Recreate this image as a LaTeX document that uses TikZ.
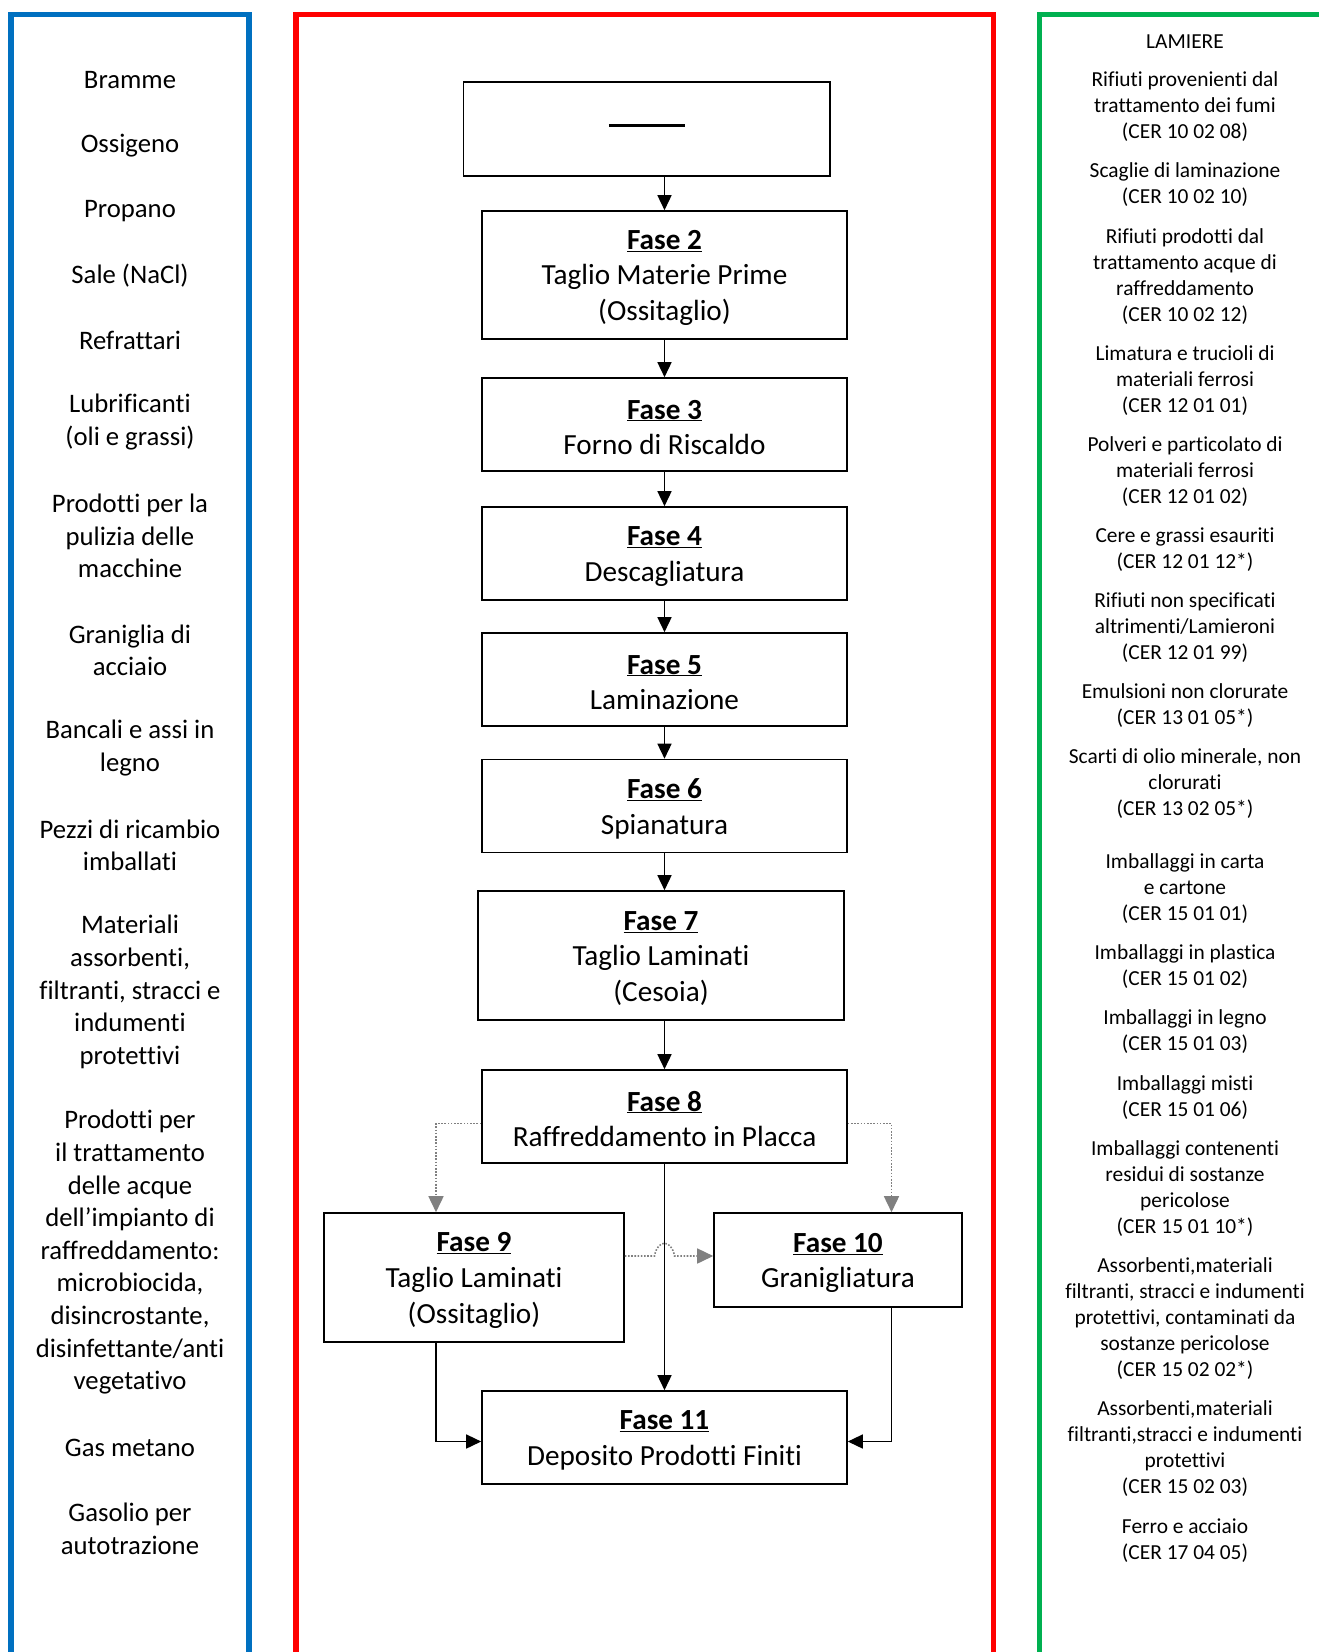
\documentclass[tikz,border=0pt]{standalone}
\usepackage{fontspec}
\setmainfont{Carlito}[Ligatures=NoCommon]
\usetikzlibrary{arrows.meta,calc}

\definecolor{frameblue}{HTML}{0070C0}
\definecolor{framered}{HTML}{FF0000}
\definecolor{framegreen}{HTML}{00B050}
\definecolor{dotgray}{HTML}{808080}

\newcommand{\fasetitle}[1]{\rule{0pt}{25pt}\textbf{\underline{Fase #1}}}

\tikzset{
  fase/.style={draw, line width=1.6pt, minimum width=365pt, minimum height=93pt, inner sep=0pt, align=center, font=\fontsize{29.2}{35.8}\selectfont},
  arr/.style={line width=1.5pt, -{Triangle[length=15pt,width=14pt]}},
  dotarr/.style={dotgray, line width=1.6pt, dash pattern=on 1.6pt off 1.6pt, -{Triangle[length=16pt,width=15pt]}},
  intxt/.style={align=center, inner sep=0pt, font=\fontsize{26.7}{32.58}\selectfont},
  outtxt/.style={align=center, inner sep=0pt, font=\fontsize{21.4}{26}\selectfont},
  frame/.style={line width=5.5pt}
}

\begin{document}
\begin{tikzpicture}[x=1pt, y=-1pt]
\useasboundingbox (0,0) rectangle (1319,1652);

% colonne
\draw[frame, frameblue] (11,1652) -- (11,14.5) -- (249,14.5) -- (249,1652);
\draw[frame, framered] (296,1652) -- (296,14.5) -- (993.7,14.5) -- (993.7,1652);
\draw[frame, framegreen] (1039.5,1652) -- (1039.5,14.5) -- (1319,14.5);

% ingressi
\foreach \k/\s/\txt in {1/0/Bramme, 2/2/Ossigeno, 3/4/Propano, 4/6/Sale (NaCl), 5/8/Refrattari,
    6/10.5/{Lubrificanti\\(oli e grassi)},
    7/14/{Prodotti per la\\pulizia delle\\macchine},
    8/17.5/{Graniglia di\\acciaio},
    9/20.5/{Bancali e assi in\\legno},
    10/23.5/{Pezzi di ricambio\\imballati},
    11/28/{Materiali\\assorbenti,\\filtranti, stracci e\\indumenti\\protettivi},
    12/36/{Prodotti per\\il trattamento\\delle acque\\dell’impianto di\\raffreddamento:\\microbiocida,\\disincrostante,\\disinfettante/anti\\vegetativo},
    13/42/Gas metano,
    14/44.5/{Gasolio per\\autotrazione}}
  \node[intxt] (in\k) at (130,{80.5+32.55*\s}) {\txt};

% uscite
\foreach \k/\y/\txt in {0/40/LAMIERE,
    1/104.9/{Rifiuti provenienti dal\\trattamento dei fumi\\(CER 10 02 08)},
    2/182.9/{Scaglie di laminazione\\(CER 10 02 10)},
    3/274.5/{Rifiuti prodotti dal\\trattamento acque di\\raffreddamento\\(CER 10 02 12)},
    4/378.9/{Limatura e trucioli di\\materiali ferrosi\\(CER 12 01 01)},
    5/470/{Polveri e particolato di\\materiali ferrosi\\(CER 12 01 02)},
    6/548/{Cere e grassi esauriti\\(CER 12 01 12*)},
    7/626/{Rifiuti non specificati\\altrimenti/Lamieroni\\(CER 12 01 99)},
    8/704/{Emulsioni non clorurate\\(CER 13 01 05*)},
    9/782/{Scarti di olio minerale, non\\clorurati\\(CER 13 02 05*)},
    10/887/{Imballaggi in carta\\e cartone\\(CER 15 01 01)},
    11/965/{Imballaggi in plastica\\(CER 15 01 02)},
    12/1030/{Imballaggi in legno\\(CER 15 01 03)},
    13/1095.6/{Imballaggi misti\\(CER 15 01 06)},
    14/1186.8/{Imballaggi contenenti\\residui di sostanze\\pericolose\\(CER 15 01 10*)},
    15/1316.4/{Assorbenti,materiali\\filtranti, stracci e indumenti\\protettivi, contaminati da\\sostanze pericolose\\(CER 15 02 02*)},
    16/1447/{Assorbenti,materiali\\filtranti,stracci e indumenti\\protettivi\\(CER 15 02 03)},
    17/1538.2/{Ferro e acciaio\\(CER 17 04 05)}}
  \node[outtxt] (out\k) at (1185,{\y+2}) {\txt};

% fasi
\node[fase, minimum width=366.5pt, minimum height=94pt] (f1) at (646.75,129) {};
\draw[line width=3pt] ($(f1.center)+(-38,-4)$) -- ($(f1.center)+(38,-4)$);
\node[fase, minimum height=128pt] (f2) at (664.5,275) {\fasetitle{2}\\Taglio Materie Prime\\(Ossitaglio)};
\node[fase] (f3) at (664.5,424.5) {\fasetitle{3}\\Forno di Riscaldo};
\node[fase] (f4) at (664.5,553.5) {\fasetitle{4}\\Descagliatura};
\node[fase] (f5) at (664.5,679.5) {\fasetitle{5}\\Laminazione};
\node[fase] (f6) at (664.5,806) {\fasetitle{6}\\Spianatura};
\node[fase, minimum width=366pt, minimum height=129pt] (f7) at (661,955.5) {\fasetitle{7}\\Taglio Laminati\\(Cesoia)};
\node[fase] (f8) at (664.5,1116.5) {\fasetitle{8}\\Raffreddamento in Placca};
\node[fase, minimum width=300pt, minimum height=129pt] (f9) at (474,1277.5) {\fasetitle{9}\\Taglio Laminati\\(Ossitaglio)};
\node[fase, minimum width=248pt, minimum height=94pt] (f10) at (838,1260) {\fasetitle{10}\\Granigliatura};
\node[fase] (f11) at (664.5,1437.5) {\fasetitle{11}\\Deposito Prodotti Finiti};

% frecce
\draw[arr] (f1.south -| f2.north) -- (f2.north);
\draw[arr] (f2) -- (f3);
\draw[arr] (f3) -- (f4);
\draw[arr] (f4) -- (f5);
\draw[arr] (f5) -- (f6);
\draw[arr] (f6.south) -- (f6.south |- f7.north);
\draw[arr] (f7.south -| f8.north) -- (f8.north);
\draw[arr] (f8) -- (f11);

\coordinate (xl) at (436,0);
\coordinate (xr) at (891.5,0);
\coordinate (hop) at (664.5,1256);
\draw[dotarr] ([yshift=-7pt]f8.west) -| (f9.north -| xl);
\draw[dotarr] ([yshift=-7pt]f8.east) -| (f10.north -| xr);
\draw[dotarr] (f9.east |- hop) -- ($(hop)+(-10,0)$) .. controls ($(hop)+(-7,-17)$) and ($(hop)+(7,-17)$) .. ($(hop)+(10,0)$) -- (f10.west |- hop);
\draw[arr] (f9.south -| xl) |- ([yshift=-4pt]f11.west);
\draw[arr] (f10.south -| xr) |- ([yshift=-4pt]f11.east);
\end{tikzpicture}
\end{document}
